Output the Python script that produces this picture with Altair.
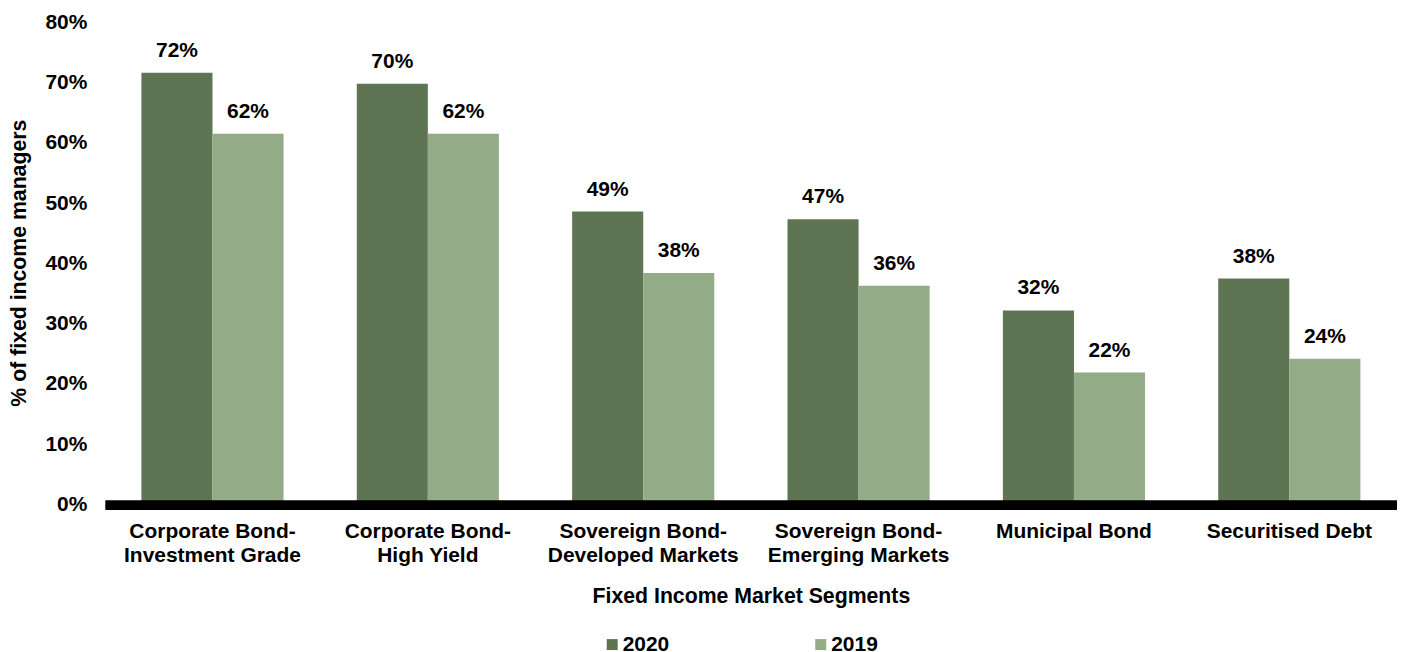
import altair as alt
import pandas as pd

segments = [
    "Corporate Bond-|Investment Grade",
    "Corporate Bond-|High Yield",
    "Sovereign Bond-|Developed Markets",
    "Sovereign Bond-|Emerging Markets",
    "Municipal Bond",
    "Securitised Debt",
]
years = ["2020", "2019"]
values_2020 = [71.6, 69.8, 48.6, 47.3, 32.2, 37.5]
values_2019 = [61.5, 61.5, 38.4, 36.3, 21.9, 24.2]
labels_2020 = ["72%", "70%", "49%", "47%", "32%", "38%"]
labels_2019 = ["62%", "62%", "38%", "36%", "22%", "24%"]
y_ticks = [0, 10, 20, 30, 40, 50, 60, 70, 80]
colors = ["#5f7452", "#93ab87"]

rows = []
for i, seg in enumerate(segments):
    rows.append({"segment": seg, "year": "2020", "value": values_2020[i], "label": labels_2020[i]})
    rows.append({"segment": seg, "year": "2019", "value": values_2019[i], "label": labels_2019[i]})
df = pd.DataFrame(rows)

FONT = "Liberation Sans"

x_enc = alt.X(
    "segment:N",
    sort=segments,
    scale=alt.Scale(paddingInner=0.34, paddingOuter=0.17),
    axis=alt.Axis(
        title="Fixed Income Market Segments",
        labelExpr="split(datum.label, '|')",
        labelAngle=0,
        labelFontSize=21,
        labelFontWeight="bold",
        labelColor="black",
        labelPadding=16,
        labelLineHeight=24,
        labelBaseline="top",
        labelLimit=400,
        ticks=False,
        tickSize=0,
        domainColor="black",
        domainWidth=10,
        domainCap="butt",
        titleFontSize=21.3,
        titleFontWeight="bold",
        titleColor="black",
        titleY=81,
        titleBaseline="top",
        zindex=1,
    ),
)
xoff_enc = alt.XOffset("year:N", sort=years, scale=alt.Scale(paddingInner=0, paddingOuter=0))
y_enc = alt.Y(
    "value:Q",
    scale=alt.Scale(domain=[0, 80], nice=False),
    axis=alt.Axis(
        values=y_ticks,
        labelExpr="datum.value + '%'",
        grid=False,
        domain=False,
        ticks=False,
        tickSize=0,
        labelPadding=18,
        labelFontSize=21,
        labelFontWeight="bold",
        labelColor="black",
        labelOverlap=False,
        title="% of fixed income managers",
        titleFontSize=21.3,
        titleFontWeight="bold",
        titleColor="black",
        titleAngle=-90,
        titleX=-85,
        titleY=241,
        titleAlign="center",
        titleBaseline="middle",
    ),
)

base = alt.Chart(df).encode(x=x_enc, xOffset=xoff_enc, y=y_enc)

bars = base.mark_bar().encode(
    color=alt.Color(
        "year:N",
        sort=years,
        scale=alt.Scale(domain=years, range=colors),
        legend=alt.Legend(
            title=None,
            orient="none",
            legendX=498,
            legendY=613,
            direction="horizontal",
            symbolType="square",
            symbolSize=121,
            symbolStrokeWidth=0,
            labelFontSize=21,
            labelFontWeight="bold",
            labelColor="black",
            labelOffset=0,
            columnPadding=141,
            padding=0,
        ),
    )
)

text = base.mark_text(
    dy=-16, baseline="alphabetic", fontSize=21, fontWeight="bold", color="black", font=FONT
).encode(text="label:N")

chart = (
    alt.layer(bars, text)
    .properties(
        width=1295,
        height=483.5,
        padding={"left": 97, "top": 13.5, "right": 0, "bottom": 150},
        autosize=alt.AutoSizeParams(type="none"),
    )
    .configure(font=FONT)
    .configure_view(stroke=None)
)

chart.save("out.html", embed_options={"renderer": "svg", "actions": False})
